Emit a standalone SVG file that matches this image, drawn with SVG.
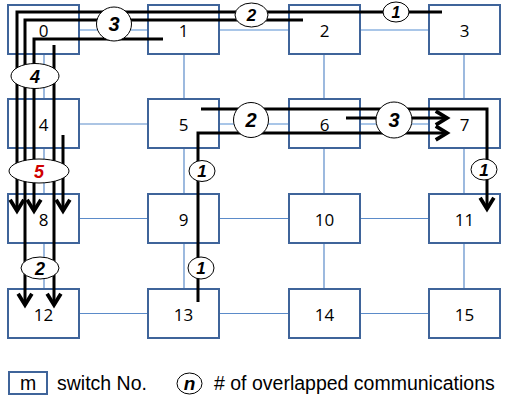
<svg xmlns="http://www.w3.org/2000/svg" width="519" height="405" viewBox="0 0 519 405">
<defs>
<style>
.box{fill:#fff;stroke:#3F649A;stroke-width:2}
.lbl{font-family:"Open Sans","Liberation Sans",sans-serif;font-size:17px;fill:#000;text-anchor:middle}
.lk{stroke:#5B8BC9;stroke-width:1.2;fill:none}
.lk2{stroke:#A9C6E8;stroke-width:2;fill:none}
.com{stroke:#000;stroke-width:3;fill:none;stroke-linejoin:miter}
.arr{marker-end:url(#ah)}
.ov{fill:#fff;stroke:#000;stroke-width:1}
.ovt{font-family:"Liberation Sans",Arial,sans-serif;font-weight:bold;font-style:italic;fill:#000;text-anchor:middle}
.leg{font-family:"Liberation Sans",Arial,sans-serif;font-size:19.5px;fill:#000}
</style>
<marker id="ah" markerUnits="userSpaceOnUse" markerWidth="20" markerHeight="20" viewBox="-12 -8 16 16" refX="0" refY="0" orient="auto" overflow="visible">
<path d="M-9,-5.5 L0,0 L-9,5.5" fill="none" stroke="#000" stroke-width="3"/>
</marker>
</defs>
<rect width="519" height="405" fill="#fff"/>
<g id="links">
<line class="lk2" x1="79" y1="30" x2="148" y2="30"/>
<line class="lk2" x1="219" y1="30" x2="289" y2="30"/>
<line class="lk2" x1="360" y1="30" x2="429" y2="30"/>
<line class="lk" x1="79" y1="124" x2="148" y2="124"/>
<line class="lk2" x1="219" y1="124" x2="289" y2="124"/>
<line class="lk2" x1="360" y1="124" x2="429" y2="124"/>
<line class="lk" x1="79" y1="218.5" x2="148" y2="218.5"/>
<line class="lk" x1="219" y1="218.5" x2="289" y2="218.5"/>
<line class="lk" x1="360" y1="218.5" x2="429" y2="218.5"/>
<line class="lk" x1="79" y1="313.5" x2="148" y2="313.5"/>
<line class="lk" x1="219" y1="313.5" x2="289" y2="313.5"/>
<line class="lk" x1="360" y1="313.5" x2="429" y2="313.5"/>
<line class="lk" x1="44" y1="54" x2="44" y2="99"/>
<line class="lk" x1="44" y1="148" x2="44" y2="194"/>
<line class="lk" x1="44" y1="243" x2="44" y2="289"/>
<line class="lk" x1="184" y1="54" x2="184" y2="99"/>
<line class="lk" x1="184" y1="148" x2="184" y2="194"/>
<line class="lk" x1="184" y1="243" x2="184" y2="289"/>
<line class="lk" x1="324" y1="54" x2="324" y2="99"/>
<line class="lk" x1="324" y1="148" x2="324" y2="194"/>
<line class="lk" x1="324" y1="243" x2="324" y2="289"/>
<line class="lk" x1="464" y1="54" x2="464" y2="99"/>
<line class="lk" x1="464" y1="148" x2="464" y2="194"/>
<line class="lk" x1="464" y1="243" x2="464" y2="289"/>
</g>
<g id="n0"><rect class="box" x="8" y="5" width="71" height="49"/><text class="lbl" x="43.5" y="36.5">0</text></g>
<g id="n1"><rect class="box" x="148" y="5" width="71" height="49"/><text class="lbl" x="183.5" y="36.5">1</text></g>
<g id="n2"><rect class="box" x="289" y="5" width="71" height="49"/><text class="lbl" x="324.5" y="36.5">2</text></g>
<g id="n3"><rect class="box" x="429" y="5" width="71" height="49"/><text class="lbl" x="464.5" y="36.5">3</text></g>
<g id="n4"><rect class="box" x="8" y="99" width="71" height="49"/><text class="lbl" x="43.5" y="131">4</text></g>
<g id="n5"><rect class="box" x="148" y="99" width="71" height="49"/><text class="lbl" x="183.5" y="131">5</text></g>
<g id="n6"><rect class="box" x="289" y="99" width="71" height="49"/><text class="lbl" x="324.5" y="131">6</text></g>
<g id="n7"><rect class="box" x="429" y="99" width="71" height="49"/><text class="lbl" x="464.5" y="131">7</text></g>
<g id="n8"><rect class="box" x="8" y="194" width="71" height="49"/><text class="lbl" x="43.5" y="225.5">8</text></g>
<g id="n9"><rect class="box" x="148" y="194" width="71" height="49"/><text class="lbl" x="183.5" y="225.5">9</text></g>
<g id="n10"><rect class="box" x="289" y="194" width="71" height="49"/><text class="lbl" x="324.5" y="225.5">10</text></g>
<g id="n11"><rect class="box" x="429" y="194" width="71" height="49"/><text class="lbl" x="464.5" y="225.5">11</text></g>
<g id="n12"><rect class="box" x="8" y="289" width="71" height="49"/><text class="lbl" x="43.5" y="320.5">12</text></g>
<g id="n13"><rect class="box" x="148" y="289" width="71" height="49"/><text class="lbl" x="183.5" y="320.5">13</text></g>
<g id="n14"><rect class="box" x="289" y="289" width="71" height="49"/><text class="lbl" x="324.5" y="320.5">14</text></g>
<g id="n15"><rect class="box" x="429" y="289" width="71" height="49"/><text class="lbl" x="464.5" y="320.5">15</text></g>
<g id="connectors">
<path class="com arr" d="M442,12 H17 V211"/>
<path class="com arr" d="M303,20 H25 V305"/>
<path class="com arr" d="M163,39 H34 V211"/>
<path class="com arr" d="M54,45 V305"/>
<path class="com arr" d="M63,135 V211"/>
<path class="com arr" d="M201,109 H487 V209"/>
<path class="com arr" d="M346,118 H447"/>
<path class="com arr" d="M198,302 V133 H447"/>
</g>
<g id="counts">
<ellipse class="ov" cx="114" cy="24" rx="17.5" ry="17"/><text class="ovt" x="114" y="31" font-size="20">3</text>
<ellipse class="ov" cx="251.5" cy="15" rx="16.5" ry="12"/><text class="ovt" x="251.5" y="21" font-size="17">2</text>
<ellipse class="ov" cx="396" cy="12" rx="13" ry="10"/><text class="ovt" x="396" y="18" font-size="16">1</text>
<ellipse class="ov" cx="35" cy="76" rx="24" ry="12.5"/><text class="ovt" x="35" y="82.5" font-size="18">4</text>
<ellipse class="ov" cx="39" cy="171" rx="30" ry="12"/><text class="ovt" x="39" y="177.5" font-size="18" style="fill:#D00000">5</text>
<ellipse class="ov" cx="40" cy="268" rx="19" ry="11"/><text class="ovt" x="40" y="274.5" font-size="18">2</text>
<ellipse class="ov" cx="251" cy="120" rx="17.5" ry="17.5"/><text class="ovt" x="251" y="127" font-size="20">2</text>
<ellipse class="ov" cx="394" cy="120" rx="18" ry="18"/><text class="ovt" x="394" y="127" font-size="20">3</text>
<ellipse class="ov" cx="202" cy="171" rx="13" ry="10.5"/><text class="ovt" x="202" y="177" font-size="17">1</text>
<ellipse class="ov" cx="484" cy="169.5" rx="13" ry="10.5"/><text class="ovt" x="484" y="175.5" font-size="17">1</text>
<ellipse class="ov" cx="201" cy="268" rx="13" ry="11"/><text class="ovt" x="201" y="274" font-size="17">1</text>
</g>
<g id="legend">
<rect class="box" x="9" y="372" width="38" height="22"/>
<text class="leg" x="28" y="390" text-anchor="middle">m</text>
<text class="leg" x="57" y="390">switch No.</text>
<ellipse class="ov" cx="189.5" cy="383.5" rx="12.5" ry="10.5"/>
<text class="ovt" x="189.5" y="390" font-size="19">n</text>
<text class="leg" x="214" y="390"># of overlapped communications</text>
</g>
</svg>
